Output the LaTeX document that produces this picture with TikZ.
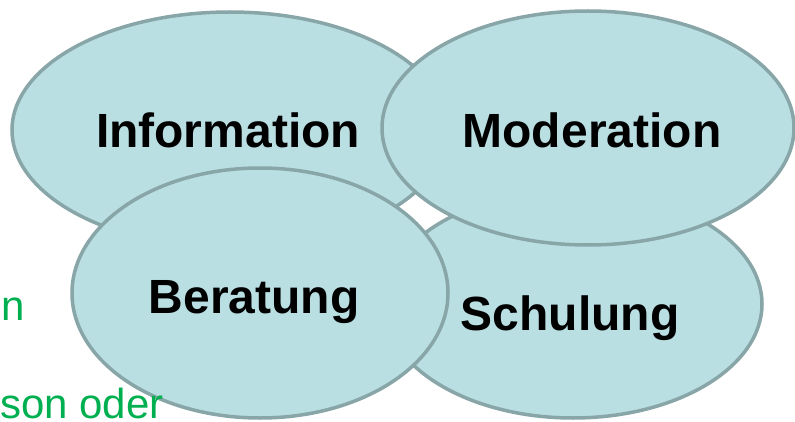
\documentclass[tikz,border=0pt]{standalone}
\usepackage{fontspec}
\setmainfont{Liberation Sans}
\usetikzlibrary{shapes.geometric}
\definecolor{fieldfill}{RGB}{185,223,227}
\definecolor{fieldline}{RGB}{136,165,168}
\definecolor{notegreen}{RGB}{0,176,80}

\begin{document}
\begin{tikzpicture}[x=1pt,y=-1pt,
    field/.style={ellipse,draw=fieldline,fill=fieldfill,line width=3.5pt,inner sep=0pt},
    fieldname/.style={anchor=base,inner sep=0pt,font=\fontsize{48}{48}\selectfont\bfseries},
    sidenote/.style={inner sep=0pt,text=notegreen,font=\fontsize{42}{42}\selectfont}]
  \useasboundingbox (0,0) rectangle (795,422);
  % fields, back to front
  \node[field,minimum width=436pt,minimum height=236pt] (info) at (230,130) {};
  \node[fieldname] (infoname) at (228,148) {Information};
  \node[field,minimum width=378pt,minimum height=228pt] (schul) at (573,304) {};
  \node[fieldname] (schulname) at (570,330) {Schulung};
  \node[field,minimum width=412pt,minimum height=234pt] (moder) at (588,128) {};
  \node[fieldname] (modername) at (592,148) {Moderation};
  \node[field,minimum width=376pt,minimum height=250pt] (berat) at (260,293) {};
  \node[fieldname] (beratname) at (254,313) {Beratung};
  % green text cut off at the left
  \node[sidenote,anchor=base east] (noteone) at (25,320) {n};
  \node[sidenote,anchor=base west] (notetwo) at (0,418) {son oder};
\end{tikzpicture}
\end{document}
